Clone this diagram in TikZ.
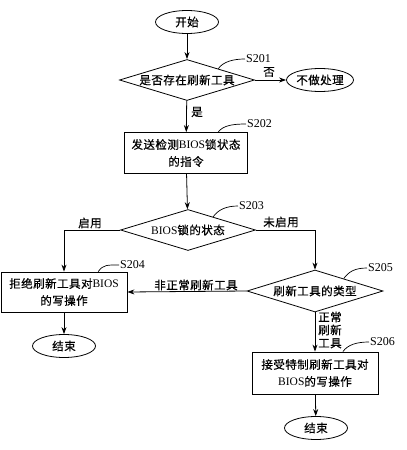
\documentclass[tikz,border=0pt]{standalone}
\usepackage{fontspec}
\setmainfont{Liberation Serif}
\newfontfamily\cjk[LetterSpace=4,FakeBold=0.6]{Noto Sans CJK SC}
\newcommand{\zh}[1]{{\cjk #1}}
\usetikzlibrary{shapes.geometric,arrows.meta,calc}
\begin{document}
\begin{tikzpicture}[x=1pt,y=-1pt,
  every node/.style={font=\fontsize{11.5}{17}\selectfont},
  term/.style={ellipse, draw, line width=0.8pt, minimum width=63pt, minimum height=23pt, inner sep=0pt},
  proc/.style={rectangle, draw, line width=0.8pt, minimum width=123pt, minimum height=41pt, align=center, inner sep=0pt},
  dec/.style={diamond, draw, line width=0.8pt, minimum width=135pt, minimum height=41pt, inner sep=0pt, aspect=3.2},
  arr/.style={-{Stealth[length=7pt,width=5pt]}, line width=0.8pt},
  lead/.style={line width=0.7pt},
  steplabel/.style={anchor=west, inner sep=1pt, font=\fontsize{12}{14}\selectfont},
  elabel/.style={inner sep=1pt}]
\useasboundingbox (0,0) rectangle (407,450);
% nodes
\node[term] (start) at (187,22) {\zh{开始}};
\node[dec] (d1) at (187,80) {\zh{是否存在刷新工具}};
\node[term] (noop) at (320,80) {\zh{不做处理}};
\node[proc] (b2) at (186,153) {\zh{发送检测}BIOS\zh{锁状态}\\\zh{的指令}};
\node[dec] (d3) at (188,230) {BIOS\zh{锁的状态}};
\node[proc, minimum width=126pt, minimum height=40pt] (b4) at (64,292) {\zh{拒绝刷新工具对}BIOS\\\zh{的写操作}};
\node[term] (end1) at (64,346) {\zh{结束}};
\node[dec, minimum width=136pt, minimum height=42pt] (d5) at (315,291) {\zh{刷新工具的类型}};
\node[proc, minimum width=126pt, minimum height=42pt] (b6) at (315,373) {\zh{接受特制刷新工具对}\\BIOS\zh{的写操作}};
\node[term] (end2) at (316,428) {\zh{结束}};
% step labels
\node[steplabel] (l1) at (245,59) {S201};
\node[steplabel] (l2) at (246,124) {S202};
\node[steplabel] (l3) at (238,206) {S203};
\node[steplabel] (l4) at (119,265) {S204};
\node[steplabel] (l5) at (367,268) {S205};
\node[steplabel] (l6) at (369,342) {S206};
% leaders
\coordinate (c1) at ($(d1.north)!0.46!(d1.east)$);
\coordinate (c2) at ($(b2.north west)!0.76!(b2.north east)$);
\coordinate (c3) at ($(d3.north)!0.37!(d3.east)$);
\coordinate (c4) at ($(b4.north west)!0.77!(b4.north east)$);
\coordinate (c5) at ($(d5.north)!0.42!(d5.east)$);
\coordinate (c6) at ($(b6.north west)!0.72!(b6.north east)$);
\draw[lead] (c1) .. controls ($(c1)+(5,-7)$) and ($(l1.west)+(-12,0)$) .. (l1.west);
\draw[lead] (c2) .. controls ($(c2)+(5,-7)$) and ($(l2.west)+(-12,0)$) .. (l2.west);
\draw[lead] (c3) .. controls ($(c3)+(5,-7)$) and ($(l3.west)+(-12,0)$) .. (l3.west);
\draw[lead] (c4) .. controls ($(c4)+(5,-7)$) and ($(l4.west)+(-12,0)$) .. (l4.west);
\draw[lead] (c5) .. controls ($(c5)+(5,-7)$) and ($(l5.west)+(-12,0)$) .. (l5.west);
\draw[lead] (c6) .. controls ($(c6)+(5,-7)$) and ($(l6.west)+(-12,0)$) .. (l6.west);
% connectors
\draw[arr] (start) -- (d1);
\draw[arr] (d1) -- (noop);
\node[elabel] (yes1) at (197,112) {\zh{是}};
\node[elabel] (no1) at (269,72) {\zh{否}};
\draw[arr] (d1) -- (b2);
\draw[arr] (b2) -- (d3);
\draw[arr] (d3.west) -| (b4.north);
\node[elabel] (en) at (90,223) {\zh{启用}};
\draw[arr] (d3.east) -| (d5.north);
\node[elabel] (dis) at (281,222) {\zh{未启用}};
\draw[arr] (b4) -- (end1);
\draw[arr] (d5.west) -- (b4.east);
\node[elabel] (abn) at (196,285) {\zh{非正常刷新工具}};
\draw[arr] (d5) -- (b6);
\node[elabel, align=center, font=\fontsize{11.5}{13}\selectfont] (nor) at (330,330) {\zh{正常}\\\zh{刷新}\\\zh{工具}};
\draw[arr] (b6) -- (end2);
\end{tikzpicture}
\end{document}
